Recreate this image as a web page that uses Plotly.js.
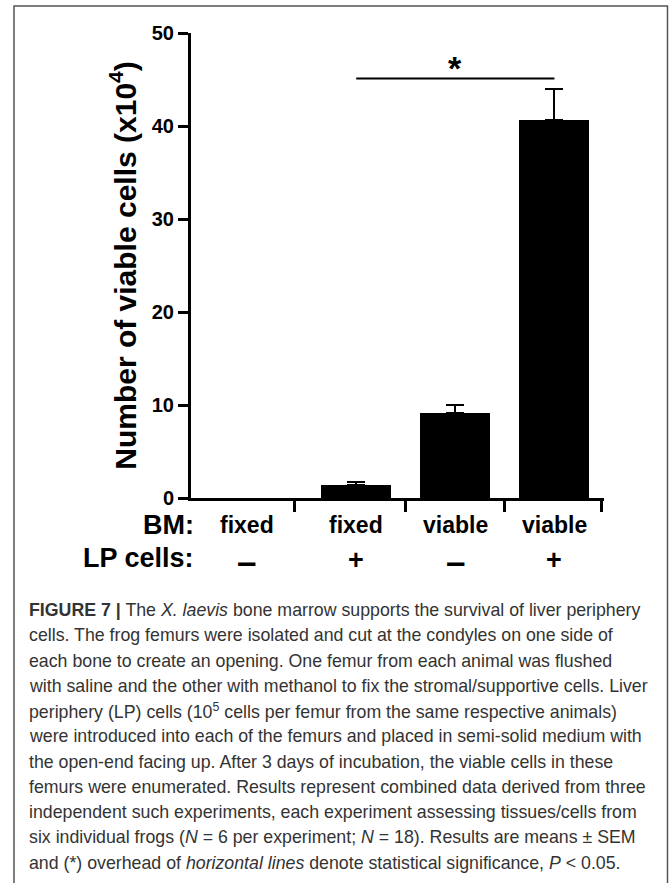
<!DOCTYPE html>
<html>
<head>
<meta charset="utf-8">
<script src="https://cdn.plot.ly/plotly-3.0.1.min.js"></script>
<style>
  html, body { margin: 0; padding: 0; background: #fff; }
  #chart { width: 669px; height: 883px; }
</style>
</head>
<body>
<div id="chart"></div>
<script>
// ---------------- data ----------------
const bmLabels = ['fixed', 'fixed', 'viable', 'viable'];
const lpLabels = ['\u2013', '+', '\u2013', '+'];
const rowLabels = ['BM:', 'LP cells:'];
const means = [0, 1.43, 9.16, 40.65];
const sem = [0, 0.25, 0.83, 3.34];
const yTicks = [0, 10, 20, 30, 40, 50];
const sigFrom = 1, sigTo = 3, sigLevel = 45.1, sigMark = '*';
const yTitle = 'Number of viable cells (x10<sup>4</sup>)';
const captionLines = [
  '<b>FIGURE 7 |</b> The <i>X. laevis</i> bone marrow supports the survival of liver periphery',
  'cells. The frog femurs were isolated and cut at the condyles on one side of',
  'each bone to create an opening. One femur from each animal was flushed',
  'with saline and the other with methanol to fix the stromal/supportive cells. Liver',
  'periphery (LP) cells (10<sup>5</sup> cells per femur from the same respective animals)',
  'were introduced into each of the femurs and placed in semi-solid medium with',
  'the open-end facing up. After 3 days of incubation, the viable cells in these',
  'femurs were enumerated. Results represent combined data derived from three',
  'independent such experiments, each experiment assessing tissues/cells from',
  'six individual frogs (<i>N</i> = 6 per experiment; <i>N</i> = 18). Results are means \u00b1 SEM',
  'and (*) overhead of <i>horizontal lines</i> denote statistical significance, <i>P</i> &lt; 0.05.'
];

// ---------------- layout helpers ----------------
const W = 669, H = 883;
const M = { l: 191, r: 65, t: 33, b: 385 };
const PW = W - M.l - M.r, PH = H - M.t - M.b;
const px2x = px => (px - M.l) / PW;
const px2y = py => (H - M.b - py) / PH;

const barX = bmLabels.map((_, i) => i);
const labelX = [-0.105, 1, 2, 3];          // label anchor positions (layout)
const boundaryTicks = [0.375, 1.5, 2.5, 3.47];

const FONT = 'Liberation Sans, Arial, Helvetica, sans-serif';
const CAPFONT = 'Liberation Sans, Arial, Helvetica, sans-serif';

const trace = {
  type: 'bar',
  x: barX,
  y: means,
  width: 0.706,
  marker: { color: '#000', line: { width: 0 } },
  error_y: {
    type: 'data', array: sem.map(v => (v > 0 ? v : NaN)),
    arrayminus: sem.map(v => (v > 0 ? 0 : NaN)), symmetric: false,
    visible: true, color: '#000', thickness: 2, width: 9
  },
  hoverinfo: 'skip'
};

const annotations = [];
bmLabels.forEach((t, i) => annotations.push({
  x: labelX[i], xref: 'x', y: 0, yref: 'paper', yshift: -27,
  text: t, showarrow: false, xanchor: 'center', yanchor: 'middle',
  font: { family: FONT, size: 23, color: '#000', weight: 'bold' }
}));
lpLabels.forEach((t, i) => annotations.push({
  x: labelX[i], xref: 'x', y: 0, yref: 'paper', yshift: t === '+' ? -62 : -63,
  text: t, showarrow: false, xanchor: 'center', yanchor: 'middle',
  font: { family: FONT, size: t === '+' ? 27 : 35, color: '#000', weight: 'bold' }
}));
rowLabels.forEach((t, i) => annotations.push({
  x: px2x(196), xref: 'paper', y: 0, yref: 'paper', yshift: i === 0 ? -27 : -60,
  text: t, showarrow: false, xanchor: 'right', yanchor: 'middle',
  font: { family: FONT, size: 27, color: '#000', weight: 'bold' }
}));
annotations.push({
  x: (sigFrom + sigTo) / 2, xref: 'x', y: sigLevel, yref: 'y', yshift: -10,
  text: sigMark, showarrow: false, xanchor: 'center', yanchor: 'bottom',
  font: { family: FONT, size: 34, color: '#000', weight: 'bold' }
});
captionLines.forEach((t, i) => annotations.push({
  x: px2x(27), xref: 'paper', y: px2y(610 + i * 25.27), yref: 'paper',
  text: t, showarrow: false, xanchor: 'left', yanchor: 'middle', align: 'left',
  font: { family: CAPFONT, size: 17.75, color: '#333' }
}));

const shapes = [
  { type: 'line', xref: 'x', yref: 'y', x0: sigFrom, x1: sigTo, y0: sigLevel, y1: sigLevel,
    line: { color: '#000', width: 2 } },
  { type: 'rect', xref: 'paper', yref: 'paper', x0: px2x(14), x1: px2x(667.5), y0: px2y(6), y1: px2y(900),
    line: { color: '#555', width: 1.5 }, fillcolor: 'rgba(0,0,0,0)', layer: 'below' }
];

const layout = {
  width: W, height: H,
  margin: M,
  paper_bgcolor: '#fff', plot_bgcolor: '#fff',
  showlegend: false,
  bargap: 0,
  xaxis: {
    type: 'linear', range: [-0.667, 3.5], fixedrange: true,
    showgrid: false, zeroline: false, showline: true, linecolor: '#000', linewidth: 3,
    tickmode: 'array', tickvals: boundaryTicks, showticklabels: false,
    ticks: 'outside', ticklen: 11, tickwidth: 3, tickcolor: '#000'
  },
  yaxis: {
    range: [0, 50], fixedrange: true,
    showgrid: false, zeroline: false, showline: true, linecolor: '#000', linewidth: 3,
    tickmode: 'array', tickvals: yTicks, ticktext: yTicks.map(String),
    ticks: 'outside', ticklen: 10, tickwidth: 3, tickcolor: '#000',
    tickfont: { family: FONT, size: 20, color: '#000', weight: 'bold' },
    title: { text: yTitle, standoff: 7, font: { family: FONT, size: 30, color: '#000', weight: 'bold' } },
    automargin: false
  },
  annotations: annotations,
  shapes: shapes
};

Plotly.newPlot('chart', [trace], layout, { displayModeBar: false, staticPlot: true });
</script>
</body>
</html>
